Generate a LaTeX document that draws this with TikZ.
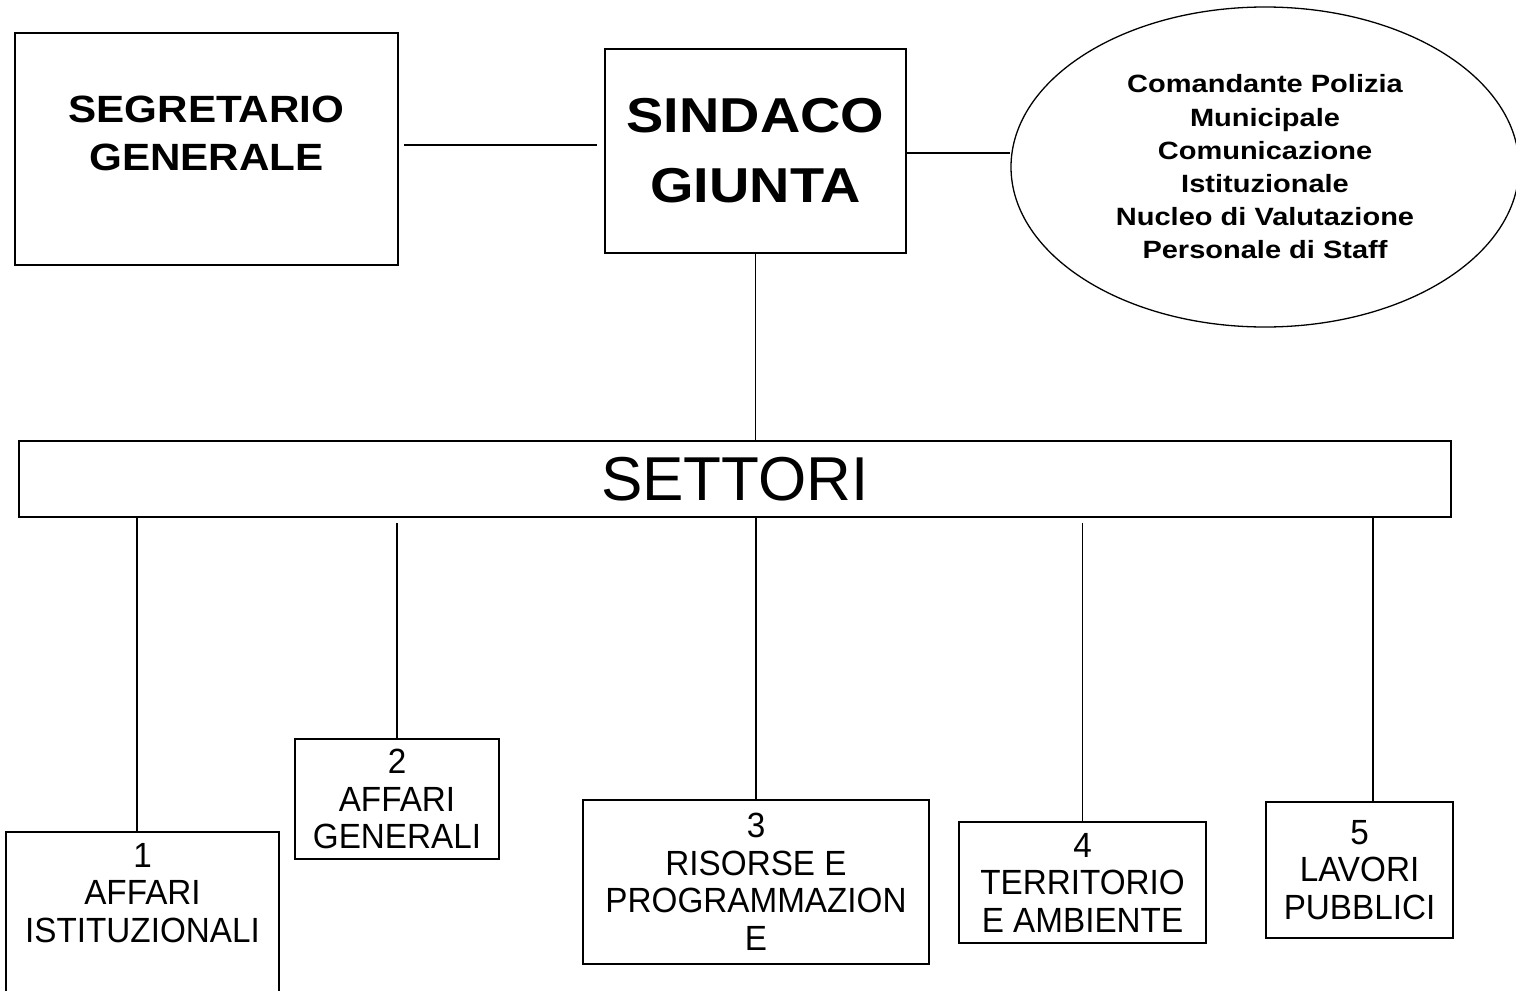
\documentclass[tikz,border=0pt]{standalone}
\usepackage{fontspec}
\setmainfont{Liberation Sans}
\newfontfamily\segfont[FakeStretch=1.11]{Liberation Sans}
\newfontfamily\sindfont[FakeStretch=1.14]{Liberation Sans}
\newfontfamily\ellfont[FakeStretch=1.16]{Liberation Sans}
\newfontfamily\boxfont[FakeStretch=0.95]{Liberation Sans}
\usetikzlibrary{shapes.geometric}
\begin{document}
\begin{tikzpicture}[x=1pt,y=-1pt,
  box/.style={draw, line width=2.2pt, rectangle, inner sep=0pt},
  conn/.style={line width=1.6pt},
  sectortext/.style={font=\boxfont\fontsize{35}{37.5}\selectfont, align=center},
]
\useasboundingbox (0,0) rectangle (1516,991);
\clip (0,0) rectangle (1516,991);

% top level
\node[box, minimum width=383pt, minimum height=232pt] (seg) at (206.5,149) {};
\node[font=\segfont\bfseries\fontsize{38}{48}\selectfont, align=center] (segt) at (206.5,133) {SEGRETARIO\\GENERALE};

\node[box, minimum width=301pt, minimum height=204pt, align=center,
      font=\sindfont\bfseries\fontsize{49}{70}\selectfont] (sind) at (755.5,151) {SINDACO\\GIUNTA};

\node[ellipse, draw, line width=1.3pt, minimum width=508pt, minimum height=320pt, inner sep=0pt,
      align=center, font=\ellfont\bfseries\fontsize{25}{33.2}\selectfont] (ell) at (1265,167)
  {Comandante Polizia\\Municipale\\Comunicazione\\Istituzionale\\Nucleo di Valutazione\\Personale di Staff};

% settori bar
\node[box, minimum width=1432pt, minimum height=76pt, font=\fontsize{62}{70}\selectfont] (sett) at (735,479) {SETTORI};

% sector boxes
\node[box, minimum width=273pt, minimum height=190pt] (s1) at (142.5,927) {};
\node[sectortext] (s1t) at (142.5,893) {1\\AFFARI\\ISTITUZIONALI};
\node[box, minimum width=204pt, minimum height=120pt, sectortext] (s2) at (397,799) {2\\AFFARI\\GENERALI};
\node[box, minimum width=346pt, minimum height=164pt, sectortext] (s3) at (756,882) {3\\RISORSE E\\PROGRAMMAZION\\E};
\node[box, minimum width=247pt, minimum height=121pt, sectortext] (s4) at (1082.5,882.5) {4\\TERRITORIO\\E AMBIENTE};
\node[box, minimum width=187pt, minimum height=136pt, sectortext] (s5) at (1359.5,870) {5\\LAVORI\\PUBBLICI};

% connectors
\draw[conn, shorten <=5pt, shorten >=7pt] ([yshift=4pt]seg.east) -- ([yshift=6pt]sind.west);
\draw[conn] ([yshift=-2pt]sind.east) -- ([yshift=-2pt]sind.east -| ell.west);
\draw[conn] (sind.south) -- (sind.south |- sett.north);

\draw[conn] ([xshift=-5.5pt]s1.north |- sett.south) -- ([xshift=-5.5pt]s1.north);
\draw[conn, shorten <=5pt] (s2.north |- sett.south) -- (s2.north);
\draw[conn] (s3.north |- sett.south) -- (s3.north);
\draw[conn, shorten <=5pt] (s4.north |- sett.south) -- (s4.north);
\draw[conn] ([xshift=13.5pt]s5.north |- sett.south) -- ([xshift=13.5pt]s5.north);
\end{tikzpicture}
\end{document}
